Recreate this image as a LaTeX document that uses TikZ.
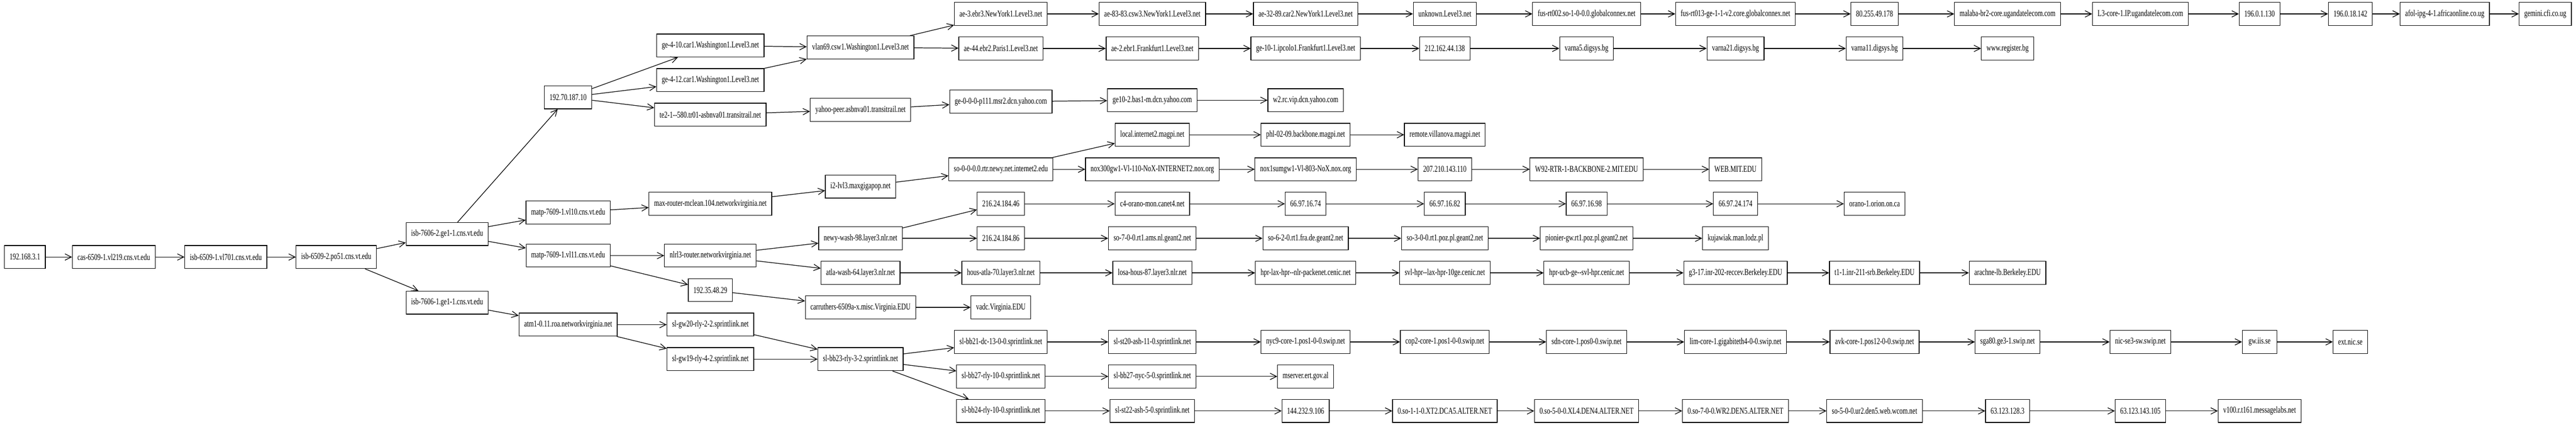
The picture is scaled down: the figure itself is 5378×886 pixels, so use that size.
\documentclass[tikz,border=0pt]{standalone}
\usepackage{fontspec}
\newfontfamily\hostfont{Liberation Serif}[FakeStretch=0.72]
\usetikzlibrary{arrows.meta}

\begin{document}
\begin{tikzpicture}[x=0.75pt, y=-0.75pt,
      hop/.style={draw, line width=1pt, rectangle, minimum width=54pt,
         minimum height=36pt, inner xsep=8pt,
         font=\hostfont\fontsize{14}{16}\selectfont},
      link/.style={line width=1pt, -{Straight Barb[length=10pt,width=10pt]}}]

      \useasboundingbox (0,0) rectangle (5378,886);

      % campus
      \node [hop] (ip)    at (52,536)    {192.168.3.1};
      \node [hop] (cas)   at (237.5,536) {cas-6509-1.vl219.cns.vt.edu};
      \node [hop] (isbA)  at (471.5,536) {isb-6509-1.vl701.cns.vt.edu};
      \node [hop] (isbB)  at (702,536)   {isb-6509-2.po51.cns.vt.edu};
      \node [hop] (isbC)  at (933.5,488) {isb-7606-2.ge1-1.cns.vt.edu};
      \node [hop] (isbD)  at (933.5,631) {isb-7606-1.ge1-1.cns.vt.edu};
      \node [hop] (ucaid) at (1186,203)  {192.70.187.10};
      \node [hop] (matpA) at (1186,443)  {matp-7609-1.vl10.cns.vt.edu};
      \node [hop] (matpB) at (1186,533)  {matp-7609-1.vl11.cns.vt.edu};
      \node [hop] (atm)   at (1186,677)  {atm1-0.11.roa.networkvirginia.net};

      % first hops out
      \node [hop] (carA) at (1483,95)  {ge-4-10.car1.Washington1.Level3.net};
      \node [hop] (carB) at (1483,167) {ge-4-12.car1.Washington1.Level3.net};
      \node [hop] (trA)  at (1483,239) {te2-1--580.tr01-asbnva01.transitrail.net};
      \node [hop] (maxA) at (1483,425) {max-router-mclean.104.networkvirginia.net};
      \node [hop] (nlrA) at (1483,533) {nlrl3-router.networkvirginia.net};
      \node [hop] (uva)  at (1483,605) {192.35.48.29};
      \node [hop] (gwA)  at (1483,677) {sl-gw20-rly-2-2.sprintlink.net};
      \node [hop] (gwB)  at (1483,749) {sl-gw19-rly-4-2.sprintlink.net};

      \node [hop] (cswA) at (1796.5,99)  {vlan69.csw1.Washington1.Level3.net};
      \node [hop] (trB)  at (1796.5,229) {yahoo-peer.asbnva01.transitrail.net};
      \node [hop] (maxB) at (1796.5,389) {i2-lvl3.maxgigapop.net};
      \node [hop] (nlrB) at (1796.5,497) {newy-wash-98.layer3.nlr.net};
      \node [hop] (nlrC) at (1796.5,569) {atla-wash-64.layer3.nlr.net};
      \node [hop] (uvaA) at (1796.5,641) {carruthers-6509a-x.misc.Virginia.EDU};
      \node [hop] (bbA)  at (1796.5,749) {sl-bb23-rly-3-2.sprintlink.net};

      \node [hop] (ebrA) at (2089.5,29)  {ae-3.ebr3.NewYork1.Level3.net};
      \node [hop] (ebrB) at (2089.5,101) {ae-44.ebr2.Paris1.Level3.net};
      \node [hop] (yhA)  at (2089.5,212) {ge-0-0-0-p111.msr2.dcn.yahoo.com};
      \node [hop] (i2A)  at (2089.5,353) {so-0-0-0.0.rtr.newy.net.internet2.edu};
      \node [hop] (nlrD) at (2089.5,425) {216.24.184.46};
      \node [hop] (nlrE) at (2089.5,497) {216.24.184.86};
      \node [hop] (nlrF) at (2089.5,569) {hous-atla-70.layer3.nlr.net};
      \node [hop] (uvaB) at (2089.5,641) {vadc.Virginia.EDU};
      \node [hop] (bbB)  at (2089.5,713) {sl-bb21-dc-13-0-0.sprintlink.net};
      \node [hop] (bbC)  at (2089.5,785) {sl-bb27-rly-10-0.sprintlink.net};
      \node [hop] (bbD)  at (2089.5,857) {sl-bb24-rly-10-0.sprintlink.net};

      \node [hop] (lvA)  at (2405.7,29)  {ae-83-83.csw3.NewYork1.Level3.net};
      \node [hop] (lvB)  at (2405.7,101) {ae-2.ebr1.Frankfurt1.Level3.net};
      \node [hop] (yhB)  at (2405.7,209) {ge10-2.bas1-m.dcn.yahoo.com};
      \node [hop] (mgA)  at (2405.7,281) {local.internet2.magpi.net};
      \node [hop] (noxA) at (2405.7,353) {nox300gw1-Vl-110-NoX-INTERNET2.nox.org};
      \node [hop] (caA)  at (2405.7,425) {c4-orano-mon.canet4.net};
      \node [hop] (gtA)  at (2405.7,497) {so-7-0-0.rt1.ams.nl.geant2.net};
      \node [hop] (nlrG) at (2405.7,569) {losa-hous-87.layer3.nlr.net};
      \node [hop] (stA)  at (2405.7,713) {sl-st20-ash-11-0.sprintlink.net};
      \node [hop] (bbE)  at (2405.7,785) {sl-bb27-nyc-5-0.sprintlink.net};
      \node [hop] (stB)  at (2405.7,857) {sl-st22-ash-5-0.sprintlink.net};

      \node [hop] (lvC)  at (2725.7,29)  {ae-32-89.car2.NewYork1.Level3.net};
      \node [hop] (lvD)  at (2725.7,101) {ge-10-1.ipcolo1.Frankfurt1.Level3.net};
      \node [hop] (yhC)  at (2725.7,209) {w2.rc.vip.dcn.yahoo.com};
      \node [hop] (mgB)  at (2725.7,281) {phl-02-09.backbone.magpi.net};
      \node [hop] (noxB) at (2725.7,353) {nox1sumgw1-Vl-803-NoX.nox.org};
      \node [hop] (caB)  at (2725.7,425) {66.97.16.74};
      \node [hop] (gtB)  at (2725.7,497) {so-6-2-0.rt1.fra.de.geant2.net};
      \node [hop] (ceA)  at (2725.7,569) {hpr-lax-hpr--nlr-packenet.cenic.net};
      \node [hop] (swA)  at (2725.7,713) {nyc9-core-1.pos1-0-0.swip.net};
      \node [hop] (al)   at (2725.7,785) {mserver.ert.gov.al};
      \node [hop] (spA)  at (2725.7,857) {144.232.9.106};

      \node [hop] (lvE)  at (3016.4,29)  {unknown.Level3.net};
      \node [hop] (lvF)  at (3016.4,101) {212.162.44.138};
      \node [hop] (mgC)  at (3016.4,281) {remote.villanova.magpi.net};
      \node [hop] (noxC) at (3016.4,353) {207.210.143.110};
      \node [hop] (caC)  at (3016.4,425) {66.97.16.82};
      \node [hop] (gtC)  at (3016.4,497) {so-3-0-0.rt1.poz.pl.geant2.net};
      \node [hop] (ceB)  at (3016.4,569) {svl-hpr--lax-hpr-10ge.cenic.net};
      \node [hop] (swB)  at (3016.4,713) {cop2-core-1.pos1-0-0.swip.net};
      \node [hop] (alA)  at (3016.4,857) {0.so-1-1-0.XT2.DCA5.ALTER.NET};

      \node [hop] (gcA)  at (3312.3,29)  {fus-rt002.so-1-0-0.0.globalconnex.net};
      \node [hop] (bgA)  at (3312.3,101) {varna5.digsys.bg};
      \node [hop] (mit)  at (3312.3,353) {W92-RTR-1-BACKBONE-2.MIT.EDU};
      \node [hop] (caD)  at (3312.3,425) {66.97.16.98};
      \node [hop] (gtD)  at (3312.3,497) {pionier-gw.rt1.poz.pl.geant2.net};
      \node [hop] (ceC)  at (3312.3,569) {hpr-ucb-ge--svl-hpr.cenic.net};
      \node [hop] (swC)  at (3312.3,713) {sdn-core-1.pos0-0.swip.net};
      \node [hop] (alB)  at (3312.3,857) {0.so-5-0-0.XL4.DEN4.ALTER.NET};

      \node [hop] (gcB)  at (3623.2,29)  {fus-rt013-ge-1-1-v2.core.globalconnex.net};
      \node [hop] (bgB)  at (3623.2,101) {varna21.digsys.bg};
      \node [hop] (mitA) at (3623.2,353) {WEB.MIT.EDU};
      \node [hop] (caE)  at (3623.2,425) {66.97.24.174};
      \node [hop] (pl)   at (3623.2,497) {kujawiak.man.lodz.pl};
      \node [hop] (ucA)  at (3623.2,569) {g3-17.inr-202-reccev.Berkeley.EDU};
      \node [hop] (swD)  at (3623.2,713) {lim-core-1.gigabiteth4-0-0.swip.net};
      \node [hop] (alC)  at (3623.2,857) {0.so-7-0-0.WR2.DEN5.ALTER.NET};

      \node [hop] (gcC)  at (3913.5,29)  {80.255.49.178};
      \node [hop] (bgC)  at (3913.5,101) {varna11.digsys.bg};
      \node [hop] (ca)   at (3913.5,425) {orano-1.orion.on.ca};
      \node [hop] (ucB)  at (3913.5,569) {t1-1.inr-211-srb.Berkeley.EDU};
      \node [hop] (swE)  at (3913.5,713) {avk-core-1.pos12-0-0.swip.net};
      \node [hop] (wcA)  at (3913.5,857) {so-5-0-0.ur2.den5.web.wcom.net};

      \node [hop] (ugA)  at (4191.2,29)  {malaba-br2-core.ugandatelecom.com};
      \node [hop] (bg)   at (4191.2,101) {www.register.bg};
      \node [hop] (ucC)  at (4191.2,569) {arachne-lb.Berkeley.EDU};
      \node [hop] (swF)  at (4191.2,713) {sga80.ge3-1.swip.net};
      \node [hop] (wcB)  at (4191.2,857) {63.123.128.3};

      \node [hop] (ugB)  at (4468.5,29)  {L3-core-1.IP.ugandatelecom.com};
      \node [hop] (seA)  at (4468.5,713) {nic-se3-sw.swip.net};
      \node [hop] (wcC)  at (4468.5,857) {63.123.143.105};

      \node [hop] (ugC)  at (4717.3,29)  {196.0.1.130};
      \node [hop] (seB)  at (4717.3,713) {gw.iis.se};
      \node [hop] (ml)   at (4717.3,857) {v100.r.t161.messagelabs.net};

      \node [hop] (ugD)  at (4906.9,29)  {196.0.18.142};
      \node [hop] (se)   at (4906.9,713) {ext.nic.se};

      \node [hop] (ugE)  at (5104,29)    {afol-ipg-4-1.africaonline.co.ug};
      \node [hop] (ug)   at (5313.7,29)  {gemini.cfi.co.ug};

      % hops
      \foreach \a/\b in {ip/cas, cas/isbA, isbA/isbB, isbB/isbC, isbB/isbD,
            isbC/ucaid, isbC/matpA, isbC/matpB, isbD/atm,
            ucaid/carA, ucaid/carB, ucaid/trA, carA/cswA, carB/cswA,
            cswA/ebrA, cswA/ebrB,
            ebrA/lvA, lvA/lvC, lvC/lvE, lvE/gcA, gcA/gcB, gcB/gcC, gcC/ugA,
            ugA/ugB, ugB/ugC, ugC/ugD, ugD/ugE, ugE/ug,
            ebrB/lvB, lvB/lvD, lvD/lvF, lvF/bgA, bgA/bgB, bgB/bgC, bgC/bg,
            trA/trB, trB/yhA, yhA/yhB, yhB/yhC,
            matpA/maxA, maxA/maxB, maxB/i2A, i2A/mgA, mgA/mgB, mgB/mgC,
            i2A/noxA, noxA/noxB, noxB/noxC, noxC/mit, mit/mitA,
            matpB/nlrA, nlrA/nlrB, nlrB/nlrD, nlrD/caA, caA/caB, caB/caC,
            caC/caD, caD/caE, caE/ca,
            nlrB/nlrE, nlrE/gtA, gtA/gtB, gtB/gtC, gtC/gtD, gtD/pl,
            nlrA/nlrC, nlrC/nlrF, nlrF/nlrG, nlrG/ceA, ceA/ceB, ceB/ceC,
            ceC/ucA, ucA/ucB, ucB/ucC,
            matpB/uva, uva/uvaA, uvaA/uvaB,
            atm/gwA, atm/gwB, gwA/bbA, gwB/bbA,
            bbA/bbB, bbB/stA, stA/swA, swA/swB, swB/swC, swC/swD, swD/swE,
            swE/swF, swF/seA, seA/seB, seB/se,
            bbA/bbC, bbC/bbE, bbE/al,
            bbA/bbD, bbD/stB, stB/spA, spA/alA, alA/alB, alB/alC, alC/wcA,
            wcA/wcB, wcB/wcC, wcC/ml}
         \draw [link] (\a) -- (\b);

\end{tikzpicture}
\end{document}
